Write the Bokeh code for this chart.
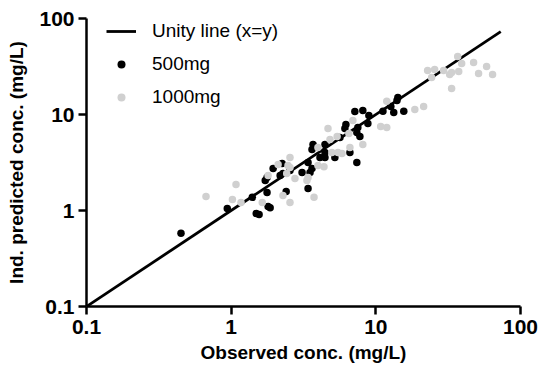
from bokeh.plotting import figure
from bokeh.models import FixedTicker, CustomJSTickFormatter, Legend, LegendItem
from bokeh.embed import file_html
from bokeh.resources import INLINE

# ---- data ----
unity_x = [0.1, 73.0]
unity_y = [0.1, 73.0]

obs_500 = [0.45, 0.94, 1.40, 1.49, 1.56, 1.77, 1.80, 1.72, 1.95, 2.18, 2.40, 1.77, 2.25, 2.28,
           3.09, 3.51, 3.62, 3.40, 3.40, 3.68, 3.62, 4.11, 4.45, 5.21, 4.45, 5.65, 6.11, 6.21,
           7.39, 7.76, 7.51, 7.16, 8.13, 8.95, 8.81, 6.62, 7.39, 11.2, 12.7, 14.2, 14.0, 13.3,
           15.6, 1.86, 4.45, 2.55]
pred_500 = [0.58, 1.05, 1.37, 0.93, 0.91, 1.54, 1.10, 2.05, 2.74, 2.31, 1.58, 2.21, 3.09, 2.43,
            2.49, 2.49, 2.74, 3.16, 1.69, 4.87, 4.32, 3.57, 3.57, 3.57, 4.87, 5.76, 7.15, 7.87,
            6.49, 5.90, 7.32, 10.75, 11.0, 9.77, 8.06, 4.02, 3.16, 10.8, 12.1, 15.0, 14.0, 10.5,
            10.8, 1.07, 4.02, 2.61]

obs_1000 = [0.67, 1.08, 1.02, 1.17, 1.64, 2.11, 1.80, 2.47, 2.28, 2.55, 2.42, 2.76, 2.55, 3.74,
            3.34, 3.40, 3.98, 4.38, 3.98, 4.82, 4.67, 4.97, 5.47, 5.83, 6.62, 6.51, 6.94, 8.13,
            10.8, 11.9, 11.9, 18.6, 21.4, 22.8, 25.5, 24.3, 29.4, 32.4, 33.4, 37.4, 36.8, 39.2,
            47.4, 51.3, 58.3, 64.1, 33.4, 2.55, 5.4]
pred_1000 = [1.40, 1.87, 1.30, 1.21, 1.21, 3.01, 2.31, 2.94, 1.43, 1.21, 2.43, 2.15, 3.57, 1.37,
             2.05, 2.21, 2.94, 2.86, 4.53, 5.49, 7.15, 4.02, 4.02, 3.92, 4.53, 6.34, 8.66, 4.87,
             7.50, 7.32, 13.7, 11.3, 12.1, 28.7, 29.4, 24.3, 28.7, 26.1, 27.4, 28.0, 40.2, 34.0,
             34.8, 26.7, 31.6, 26.1, 18.7, 2.80, 5.9]

tick_values = [0.1, 1, 10, 100]
tick_labels = ["0.1", "1", "10", "100"]

FONT = "Liberation Sans"

p = figure(width=539, height=374, x_axis_type="log", y_axis_type="log",
           x_range=(0.1, 100), y_range=(0.1, 100),
           output_backend="svg", toolbar_location=None,
           min_border_left=86, min_border_right=19, min_border_top=18, min_border_bottom=68)
p.outline_line_color = None
p.xgrid.visible = False
p.ygrid.visible = False
p.background_fill_color = "white"
p.border_fill_color = "white"

r_line = p.line(unity_x, unity_y, line_color="black", line_width=2.8)
r_500 = p.scatter(obs_500, pred_500, size=7.5, fill_color="black", line_color="black", line_width=0)
r_1000 = p.scatter(obs_1000, pred_1000, size=7.5, fill_color="#d0d0d0", line_color="#d0d0d0", line_width=0)

fmt = CustomJSTickFormatter(args=dict(vals=tick_values, labels=tick_labels), code="""
for (let i = 0; i < vals.length; i++) { if (Math.abs(Math.log10(tick) - Math.log10(vals[i])) < 1e-6) return labels[i]; }
return '';
""")

for ax, lab in ((p.xaxis[0], "Observed conc. (mg/L)"), (p.yaxis[0], "Ind. predicted conc. (mg/L)")):
    ax.ticker = FixedTicker(ticks=tick_values)
    ax.formatter = fmt
    ax.minor_tick_line_color = None
    ax.axis_line_width = 2.5
    ax.axis_line_color = "black"
    ax.major_tick_line_width = 2.5
    ax.major_tick_line_color = "black"
    ax.major_tick_out = 8
    ax.major_tick_in = 0
    ax.major_label_text_font = FONT
    ax.major_label_text_font_style = "bold"
    ax.major_label_text_font_size = "21px"
    ax.major_label_text_color = "black"
    ax.axis_label = lab
    ax.axis_label_text_font = FONT
    ax.axis_label_text_font_style = "bold"
    ax.axis_label_text_font_size = "19px"
    ax.axis_label_text_color = "black"

p.xaxis[0].major_label_standoff = 5
p.xaxis[0].axis_label_standoff = 5
p.yaxis[0].major_label_standoff = 4
p.yaxis[0].axis_label_standoff = 9

legend = Legend(items=[
    LegendItem(label="Unity line (x=y)", renderers=[r_line]),
    LegendItem(label="500mg", renderers=[r_500]),
    LegendItem(label="1000mg", renderers=[r_1000]),
], location=(20, 198))
legend.border_line_color = None
legend.background_fill_alpha = 0
legend.padding = 0
legend.margin = 0
legend.spacing = 11
legend.glyph_width = 30
legend.glyph_height = 20
legend.label_height = 20
legend.label_standoff = 16
legend.label_text_font = FONT
legend.label_text_font_size = "19px"
legend.label_text_color = "black"
p.add_layout(legend, "center")

open("out.html", "w").write(file_html(p, INLINE))
